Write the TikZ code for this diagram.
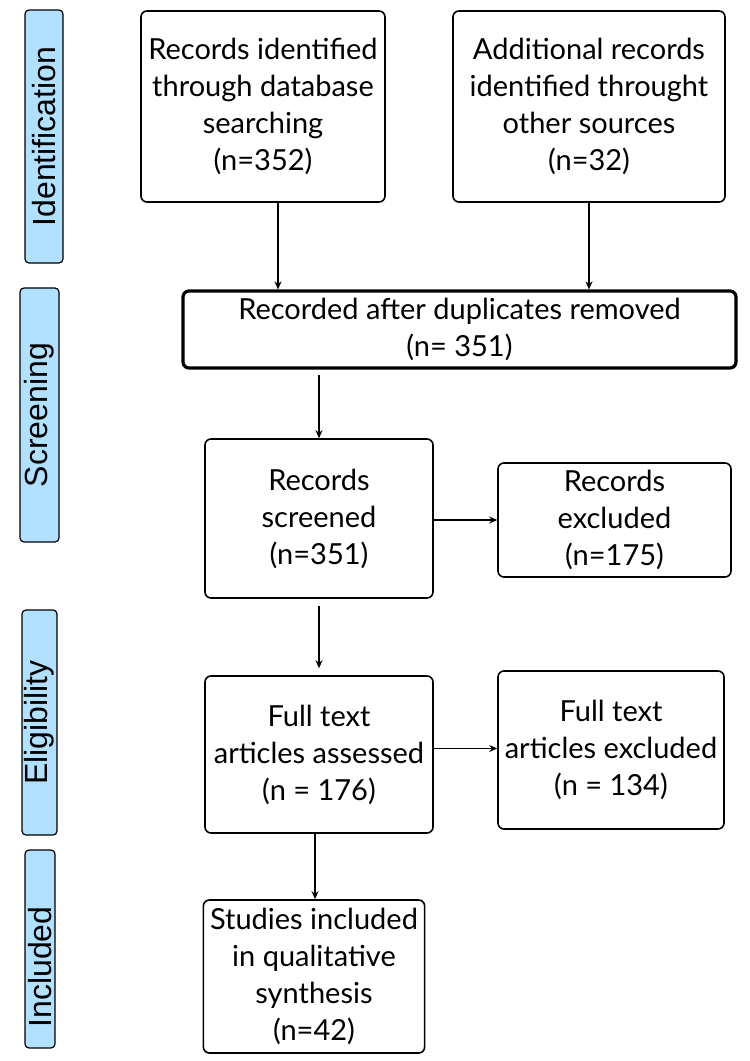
\documentclass[tikz,border=0pt]{standalone}
\usepackage{fontspec}
\setmainfont{Lato}
\newfontfamily\phasefont{Liberation Sans}
\usetikzlibrary{arrows.meta,positioning}
\definecolor{phaseblue}{RGB}{178,224,255}

\begin{document}
\begin{tikzpicture}[
    x=0.5pt, y=-0.5pt,
    box/.style={rectangle, rounded corners=3pt, draw, line width=0.8pt, align=center, font=\fontsize{14.5}{18.5}\selectfont},
    phase/.style={rectangle, rounded corners=2pt, draw, line width=0.6pt, fill=phaseblue, rotate=90, inner sep=0pt, font=\phasefont\fontsize{16}{18}\selectfont},
    arrow/.style={-{Stealth[length=4pt,width=3.5pt]}, line width=0.7pt}
]
\useasboundingbox (0,0) rectangle (750,1061);

% phase bars
\node[phase, minimum width=126.5pt, minimum height=19pt] (ident) at (44,136.5) {Identification};
\node[phase, minimum width=127pt, minimum height=19.5pt] (screen) at (39.5,415) {Screening};
\node[phase, minimum width=112.5pt, minimum height=17.5pt] (elig) at (39.5,722.5) {Eligibility};
\node[phase, minimum width=99pt, minimum height=15pt] (incl) at (40,949) {Included\hspace*{18pt}};

% flow boxes
\node[box, minimum width=122pt, minimum height=95.5pt] (dbrec) at (263,106.5) {Records identified\\through database\\searching\\(n=352)};
\node[box, minimum width=136pt, minimum height=95.5pt] (otherrec) at (589,106.5) {Additional records\\identified throught\\other sources\\(n=32)};
\node[box, line width=1.6pt, minimum width=276.5pt, minimum height=38.5pt] (dedup) at (459.5,329.5) {Recorded after duplicates removed\\(n= 351)};
\node[box, minimum width=114pt, minimum height=79.5pt] (screened) at (319,518.5) {Records\\screened\\(n=351)};
\node[box, minimum width=116.5pt, minimum height=57pt] (excl) at (614.5,520) {Records\\excluded\\(n=175)};
\node[box, minimum width=114pt, minimum height=78.5pt] (fulltext) at (319,754.5) {Full text\\articles assessed\\(n = 176)};
\node[box, minimum width=113pt, minimum height=79pt] (ftexcl) at (611,750) {Full text\\articles excluded\\(n = 134)};
\node[box, minimum width=109pt, minimum height=76.5pt] (studies) at (314,976.5) {Studies included\\in qualitative\\synthesis\\(n=42)};

% connectors
\draw[arrow] ([xshift=7.5pt]dbrec.south) -- ([xshift=7.5pt]dbrec.south |- dedup.north);
\draw[arrow] (otherrec.south) -- (otherrec.south |- dedup.north);
\draw[arrow] ([yshift=-2.5pt]dedup.south -| screened.north) -- (screened.north);
\draw[arrow] (screened.east |- excl.west) -- (excl.west);
\draw[arrow] ([yshift=-3.5pt]screened.south) -- ([yshift=3.5pt]fulltext.north);
\draw[arrow] ([yshift=3pt]fulltext.east) -- ([yshift=3pt]fulltext.east -| ftexcl.west);
\draw[arrow] ([xshift=-2pt]fulltext.south) -- ([xshift=-2pt]fulltext.south |- studies.north);

\end{tikzpicture}
\end{document}
